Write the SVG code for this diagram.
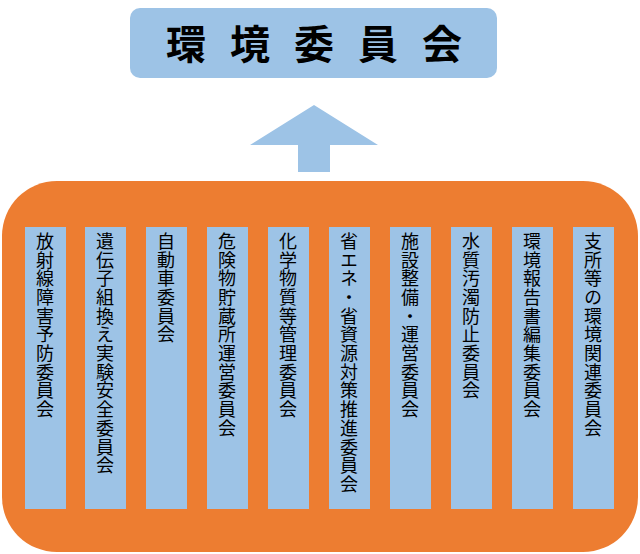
<svg xmlns="http://www.w3.org/2000/svg" width="640" height="554" viewBox="0 0 640 554">
<style>
.col{fill:#9dc3e6}
.t{font-family:"Noto Sans CJK JP",sans-serif;font-size:18px;fill:#000;writing-mode:vertical-rl;letter-spacing:0.7px}
</style>
<rect width="640" height="554" fill="#fff"/>
<g id="top"><rect x="130" y="8" width="367" height="70" rx="10" fill="#9dc3e6"/>
<text x="326" y="59" text-anchor="middle" font-family="Noto Sans CJK JP,sans-serif" font-size="40" font-weight="bold" letter-spacing="24">環境委員会</text></g>
<g id="connectors"><polygon points="314,105 378,145 330,145 330,172 298,172 298,145 250,145" fill="#9dc3e6"/></g>
<g id="group"><rect x="2" y="181" width="636" height="371" rx="55" fill="#ed7d31"/></g>
<g id="n1"><rect class="col" x="25" y="227" width="41" height="282"/><text class="t" x="45" y="232">放射線障害予防委員会</text></g>
<g id="n2"><rect class="col" x="85" y="227" width="41" height="282"/><text class="t" x="105" y="232">遺伝子組換え実験安全委員会</text></g>
<g id="n3"><rect class="col" x="146" y="227" width="41" height="282"/><text class="t" x="166" y="232">自動車委員会</text></g>
<g id="n4"><rect class="col" x="207" y="227" width="41" height="282"/><text class="t" x="227" y="232">危険物貯蔵所運営委員会</text></g>
<g id="n5"><rect class="col" x="268" y="227" width="41" height="282"/><text class="t" x="288" y="232">化学物質等管理委員会</text></g>
<g id="n6"><rect class="col" x="329" y="227" width="41" height="282"/><text class="t" x="349" y="232">省エネ・省資源対策推進委員会</text></g>
<g id="n7"><rect class="col" x="390" y="227" width="41" height="282"/><text class="t" x="410" y="232">施設整備・運営委員会</text></g>
<g id="n8"><rect class="col" x="451" y="227" width="41" height="282"/><text class="t" x="471" y="232">水質汚濁防止委員会</text></g>
<g id="n9"><rect class="col" x="512" y="227" width="41" height="282"/><text class="t" x="532" y="232">環境報告書編集委員会</text></g>
<g id="n10"><rect class="col" x="573" y="227" width="41" height="282"/><text class="t" x="593" y="232">支所等の環境関連委員会</text></g>
</svg>
